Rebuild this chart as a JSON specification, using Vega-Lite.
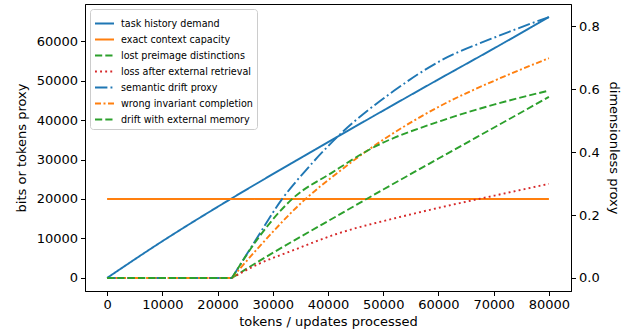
{
  "$schema": "https://vega.github.io/schema/vega-lite/v6.json",
  "width": 486,
  "height": 287,
  "autosize": {"type": "none"},
  "padding": {"left": 85, "top": 4, "right": 67, "bottom": 43},
  "background": "white",
  "config": {
    "view": {"stroke": "black", "strokeWidth": 1},
    "font": "DejaVu Sans",
    "axis": {
      "domainColor": "black", "tickColor": "black", "labelColor": "black", "titleColor": "black",
      "labelFontSize": 13, "titleFontSize": 13, "titleFontWeight": "normal",
      "labelFont": "DejaVu Sans", "titleFont": "DejaVu Sans",
      "tickSize": 4.5, "labelPadding": 3, "grid": false
    },
    "legend": {
      "orient": "top-left", "offset": 5, "fillColor": "rgba(255,255,255,0.8)", "strokeColor": "#cccccc",
      "cornerRadius": 3, "padding": 4, "labelFont": "DejaVu Sans", "labelFontSize": 9.6, "labelColor": "black",
      "symbolType": "stroke", "symbolSize": 361, "symbolStrokeWidth": 2, "rowPadding": -8, "labelOffset": 6,
      "labelLimit": 300
    }
  },
  "datasets": {
    "left": [
      {"token": 0, "value": 0, "series": "task history demand", "part": "all"},
      {"token": 10000, "value": 9300, "series": "task history demand", "part": "all"},
      {"token": 20000, "value": 18000, "series": "task history demand", "part": "all"},
      {"token": 30000, "value": 26300, "series": "task history demand", "part": "all"},
      {"token": 40000, "value": 34400, "series": "task history demand", "part": "all"},
      {"token": 50000, "value": 42400, "series": "task history demand", "part": "all"},
      {"token": 60000, "value": 50300, "series": "task history demand", "part": "all"},
      {"token": 70000, "value": 58100, "series": "task history demand", "part": "all"},
      {"token": 80000, "value": 66090, "series": "task history demand", "part": "all"},
      {"token": 0, "value": 20000, "series": "exact context capacity", "part": "all"},
      {"token": 80000, "value": 20000, "series": "exact context capacity", "part": "all"},
      {"token": 0, "value": 0, "series": "lost preimage distinctions", "part": "flat"},
      {"token": 22600, "value": 0, "series": "lost preimage distinctions", "part": "flat"},
      {"token": 22600, "value": 0, "series": "lost preimage distinctions", "part": "rise"},
      {"token": 25000, "value": 2100, "series": "lost preimage distinctions", "part": "rise"},
      {"token": 30000, "value": 6350, "series": "lost preimage distinctions", "part": "rise"},
      {"token": 35000, "value": 10400, "series": "lost preimage distinctions", "part": "rise"},
      {"token": 40000, "value": 14400, "series": "lost preimage distinctions", "part": "rise"},
      {"token": 50000, "value": 22400, "series": "lost preimage distinctions", "part": "rise"},
      {"token": 60000, "value": 30250, "series": "lost preimage distinctions", "part": "rise"},
      {"token": 70000, "value": 38050, "series": "lost preimage distinctions", "part": "rise"},
      {"token": 80000, "value": 45850, "series": "lost preimage distinctions", "part": "rise"},
      {"token": 0, "value": 0, "series": "loss after external retrieval", "part": "flat"},
      {"token": 22600, "value": 0, "series": "loss after external retrieval", "part": "flat"},
      {"token": 22600, "value": 0, "series": "loss after external retrieval", "part": "rise"},
      {"token": 27455, "value": 3550, "series": "loss after external retrieval", "part": "rise"},
      {"token": 33527, "value": 6920, "series": "loss after external retrieval", "part": "rise"},
      {"token": 41400, "value": 11070, "series": "loss after external retrieval", "part": "rise"},
      {"token": 53200, "value": 15500, "series": "loss after external retrieval", "part": "rise"},
      {"token": 60491, "value": 17905, "series": "loss after external retrieval", "part": "rise"},
      {"token": 70182, "value": 20870, "series": "loss after external retrieval", "part": "rise"},
      {"token": 80000, "value": 23840, "series": "loss after external retrieval", "part": "rise"}
    ],
    "right": [
      {"token": 0, "value": 0, "series": "semantic drift proxy", "part": "flat"},
      {"token": 22600, "value": 0, "series": "semantic drift proxy", "part": "flat"},
      {"token": 22600, "value": 0, "series": "semantic drift proxy", "part": "rise"},
      {"token": 26855, "value": 0.119, "series": "semantic drift proxy", "part": "rise"},
      {"token": 31709, "value": 0.2515, "series": "semantic drift proxy", "part": "rise"},
      {"token": 35945, "value": 0.3416, "series": "semantic drift proxy", "part": "rise"},
      {"token": 41709, "value": 0.449, "series": "semantic drift proxy", "part": "rise"},
      {"token": 52000, "value": 0.596, "series": "semantic drift proxy", "part": "rise"},
      {"token": 60491, "value": 0.692, "series": "semantic drift proxy", "part": "rise"},
      {"token": 69582, "value": 0.761, "series": "semantic drift proxy", "part": "rise"},
      {"token": 80000, "value": 0.83, "series": "semantic drift proxy", "part": "rise"},
      {"token": 0, "value": 0, "series": "wrong invariant completion", "part": "flat"},
      {"token": 22600, "value": 0, "series": "wrong invariant completion", "part": "flat"},
      {"token": 22600, "value": 0, "series": "wrong invariant completion", "part": "rise"},
      {"token": 27455, "value": 0.0974, "series": "wrong invariant completion", "part": "rise"},
      {"token": 35945, "value": 0.2515, "series": "wrong invariant completion", "part": "rise"},
      {"token": 41400, "value": 0.33, "series": "wrong invariant completion", "part": "rise"},
      {"token": 46545, "value": 0.398, "series": "wrong invariant completion", "part": "rise"},
      {"token": 60491, "value": 0.5486, "series": "wrong invariant completion", "part": "rise"},
      {"token": 70182, "value": 0.628, "series": "wrong invariant completion", "part": "rise"},
      {"token": 80000, "value": 0.699, "series": "wrong invariant completion", "part": "rise"},
      {"token": 0, "value": 0, "series": "drift with external memory", "part": "flat"},
      {"token": 22600, "value": 0, "series": "drift with external memory", "part": "flat"},
      {"token": 22600, "value": 0, "series": "drift with external memory", "part": "rise"},
      {"token": 27455, "value": 0.129, "series": "drift with external memory", "part": "rise"},
      {"token": 33527, "value": 0.2515, "series": "drift with external memory", "part": "rise"},
      {"token": 40800, "value": 0.336, "series": "drift with external memory", "part": "rise"},
      {"token": 47764, "value": 0.411, "series": "drift with external memory", "part": "rise"},
      {"token": 60491, "value": 0.5, "series": "drift with external memory", "part": "rise"},
      {"token": 70182, "value": 0.552, "series": "drift with external memory", "part": "rise"},
      {"token": 80000, "value": 0.596, "series": "drift with external memory", "part": "rise"}
    ]
  },
  "layer": [
    {
      "data": {"name": "left"},
      "mark": {"type": "line", "strokeWidth": 1.9, "clip": true, "interpolate": "monotone"},
      "encoding": {
        "x": {"field": "token", "type": "quantitative",
          "scale": {"domain": [-4000, 84000], "nice": false, "zero": false},
          "axis": {"values": [0, 10000, 20000, 30000, 40000, 50000, 60000, 70000, 80000], "format": "d", "title": "tokens / updates processed", "titlePadding": 4}},
        "y": {"field": "value", "type": "quantitative",
          "scale": {"domain": [-3305, 69395], "nice": false, "zero": false},
          "axis": {"orient": "left", "values": [0, 10000, 20000, 30000, 40000, 50000, 60000], "format": "d", "title": "bits or tokens proxy", "titlePadding": 8}},
        "color": {"field": "series", "type": "nominal",
          "scale": {"domain": ["task history demand", "exact context capacity", "lost preimage distinctions", "loss after external retrieval", "semantic drift proxy", "wrong invariant completion", "drift with external memory"],
                    "range": ["#1f77b4", "#ff7f0e", "#2ca02c", "#d62728", "#1f77b4", "#ff7f0e", "#2ca02c"]},
          "legend": {"title": null}},
        "strokeDash": {"field": "series", "type": "nominal",
          "scale": {"domain": ["task history demand", "exact context capacity", "lost preimage distinctions", "loss after external retrieval", "semantic drift proxy", "wrong invariant completion", "drift with external memory"],
                    "range": [[1, 0], [1, 0], [7.2, 3.1], [1.9, 3.2], [12.4, 3.1, 1.9, 3.1], [6, 2.5, 2, 2.5], [7.2, 3.1]]},
          "legend": {"title": null}},
        "detail": {"field": "part", "type": "nominal"}
      }
    },
    {
      "data": {"name": "right"},
      "mark": {"type": "line", "strokeWidth": 1.9, "clip": true, "interpolate": "monotone"},
      "encoding": {
        "x": {"field": "token", "type": "quantitative"},
        "y": {"field": "value", "type": "quantitative",
          "scale": {"domain": [-0.0415, 0.8715], "nice": false, "zero": false},
          "axis": {"orient": "right", "values": [0, 0.2, 0.4, 0.6, 0.8], "format": ".1f", "title": "dimensionless proxy", "titlePadding": 7}},
        "color": {"field": "series", "type": "nominal", "legend": {"title": null}},
        "strokeDash": {"field": "series", "type": "nominal", "legend": {"title": null}},
        "detail": {"field": "part", "type": "nominal"}
      }
    }
  ],
  "resolve": {"scale": {"y": "independent"}}
}
